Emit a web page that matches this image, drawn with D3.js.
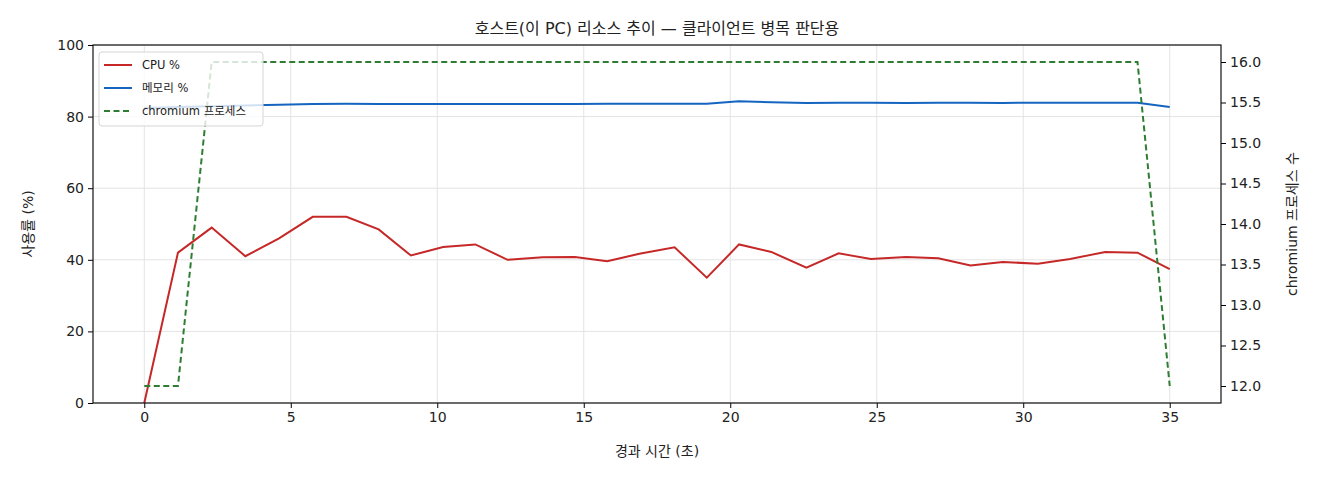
<!DOCTYPE html>
<html>
<head>
<meta charset="utf-8">
<script src="https://cdn.jsdelivr.net/npm/d3@7"></script>
<style>
body { margin: 0; background: #fff; }
text { font-family: "DejaVu Sans", "Noto Sans CJK KR", sans-serif; fill: #222; }
</style>
</head>
<body>
<svg id="chart" width="1320" height="480"></svg>
<script>
// elapsed seconds for each sample
var times = [0, 1.15, 2.3, 3.45, 4.6, 5.75, 6.9, 8.0, 9.1, 10.2, 11.3, 12.4, 13.6, 14.7, 15.8, 16.9,
    18.1, 19.2, 20.3, 21.4, 22.6, 23.7, 24.8, 26.0, 27.1, 28.2, 29.3, 30.5, 31.6, 32.8, 33.9, 35.0];
var cpu = [0, 42, 49, 41, 46, 52, 52, 48.5, 41.2, 43.6, 44.3, 40, 40.7, 40.8, 39.6, 41.7,
    43.5, 35, 44.3, 42.2, 37.8, 41.8, 40.2, 40.8, 40.4, 38.4, 39.4, 38.9, 40.2, 42.2, 42, 37.4];
var mem = [82.4, 82.7, 82.9, 83.1, 83.3, 83.5, 83.6, 83.5, 83.5, 83.5, 83.5, 83.5, 83.5, 83.5, 83.6, 83.6,
    83.6, 83.6, 84.3, 84.0, 83.8, 83.9, 83.9, 83.8, 83.9, 83.9, 83.8, 83.9, 83.9, 83.9, 83.9, 82.7];
var chromium = [12, 12, 16, 16, 16, 16, 16, 16, 16, 16, 16, 16, 16, 16, 16, 16,
    16, 16, 16, 16, 16, 16, 16, 16, 16, 16, 16, 16, 16, 16, 16, 12];
var xTicks = [0, 5, 10, 15, 20, 25, 30, 35];
var yTicks = [0, 20, 40, 60, 80, 100];
var y2Ticks = [12.0, 12.5, 13.0, 13.5, 14.0, 14.5, 15.0, 15.5, 16.0];

var svg = d3.select("#chart");
var pLeft = 93, pRight = 1221, pTop = 45, pBottom = 403;

var x = d3.scaleLinear().domain([-1.75, 36.75]).range([pLeft, pRight]);
var y = d3.scaleLinear().domain([0, 100]).range([pBottom, pTop]);
var y2 = d3.scaleLinear().domain([11.79, 16.21]).range([pBottom, pTop]);

// grid
svg.append("g").selectAll("line").data(xTicks).join("line")
    .attr("x1", d => x(d)).attr("x2", d => x(d)).attr("y1", pTop).attr("y2", pBottom)
    .attr("stroke", "#e3e3e3");
svg.append("g").selectAll("line").data(yTicks).join("line")
    .attr("x1", pLeft).attr("x2", pRight).attr("y1", d => y(d)).attr("y2", d => y(d))
    .attr("stroke", "#e3e3e3");

function drawLine(vals, scale, color, dash) {
    var line = d3.line().x((d, i) => x(times[i])).y(d => scale(d));
    svg.append("path").datum(vals).attr("d", line)
        .attr("fill", "none").attr("stroke", color).attr("stroke-width", 2)
        .attr("stroke-dasharray", dash || null);
}
drawLine(cpu, y, "#c62828");
drawLine(mem, y, "#1565c0");
drawLine(chromium, y2, "#2e7d32", "6,3.5");

// axes
var gx = svg.append("g").attr("transform", "translate(0," + pBottom + ")")
    .call(d3.axisBottom(x).tickValues(xTicks).tickSize(5).tickPadding(4));
var gy = svg.append("g").attr("transform", "translate(" + pLeft + ",0)")
    .call(d3.axisLeft(y).tickValues(yTicks).tickSize(5).tickPadding(4));
var gy2 = svg.append("g").attr("transform", "translate(" + pRight + ",0)")
    .call(d3.axisRight(y2).tickValues(y2Ticks).tickFormat(d3.format(".1f")).tickSize(5).tickPadding(4));
[gx, gy, gy2].forEach(g => {
    g.selectAll("text").attr("font-size", 14).style("fill", "#222");
    g.select(".domain").remove();
});
svg.append("rect").attr("x", pLeft).attr("y", pTop).attr("width", pRight - pLeft).attr("height", pBottom - pTop)
    .attr("fill", "none").attr("stroke", "#111").attr("stroke-width", 1.2);

// labels
svg.append("text").attr("x", (pLeft + pRight) / 2).attr("y", 34).attr("text-anchor", "middle")
    .attr("font-size", 16).text("호스트(이 PC) 리소스 추이 — 클라이언트 병목 판단용");
svg.append("text").attr("x", (pLeft + pRight) / 2).attr("y", 456).attr("text-anchor", "middle")
    .attr("font-size", 14).text("경과 시간 (초)");
svg.append("text").attr("transform", "translate(33," + (pTop + pBottom) / 2 + ") rotate(-90)")
    .attr("text-anchor", "middle").attr("font-size", 14).text("사용률 (%)");
svg.append("text").attr("transform", "translate(1297," + (pTop + pBottom) / 2 + ") rotate(-90)")
    .attr("text-anchor", "middle").attr("font-size", 14).text("chromium 프로세스 수");

// legend
var legend = [
    { name: "CPU %", color: "#c62828" },
    { name: "메모리 %", color: "#1565c0" },
    { name: "chromium 프로세스", color: "#2e7d32", dash: "6,3.5" }
];
svg.append("rect").attr("x", 99).attr("y", 52).attr("width", 164).attr("height", 74).attr("rx", 3)
    .attr("fill", "rgba(255,255,255,0.8)").attr("stroke", "#d5d5d5");
legend.forEach((d, i) => {
    var ly = 65 + i * 23;
    svg.append("line").attr("x1", 104).attr("x2", 132).attr("y1", ly).attr("y2", ly)
        .attr("stroke", d.color).attr("stroke-width", 2).attr("stroke-dasharray", d.dash || null);
    svg.append("text").attr("x", 142).attr("y", ly + 4).attr("font-size", 11.5).text(d.name);
});
</script>
</body>
</html>
